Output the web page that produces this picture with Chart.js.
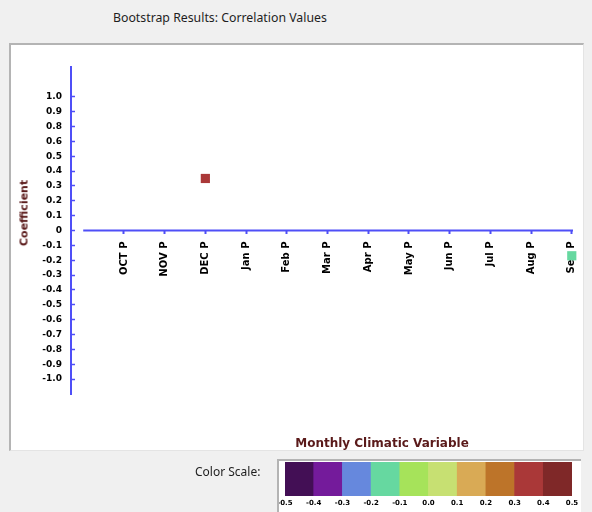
<!DOCTYPE html>
<html>
<head>
<meta charset="utf-8">
<script src="https://cdn.jsdelivr.net/npm/chart.js@4/dist/chart.umd.min.js"></script>
<style>
body { margin: 0; width: 592px; height: 512px; overflow: hidden; position: relative; background: #f0f0f0; font-family: "Noto Sans", sans-serif; }
#title { position: absolute; left: 113px; top: 9px; font-size: 12.3px; color: #1e1e1e; white-space: nowrap; }
#panel { position: absolute; left: 9px; top: 43px; width: 572px; height: 405px; background: #fff; border-top: 2px solid #b4b4b4; border-left: 2px solid #b4b4b4; border-right: 1px solid #e4e4e4; border-bottom: 1px solid #e4e4e4; }
#mainWrap { position: absolute; left: 11px; top: 45px; width: 571px; height: 405px; }
#ytitle { position: absolute; left: 24px; top: 213px; transform: translate(-50%, -50%) rotate(-90deg); font: bold 11px "DejaVu Sans"; color: #5a1a1a; white-space: nowrap; }
#xtitle { position: absolute; left: 382px; top: 443px; transform: translate(-50%, -50%); font: bold 12px "DejaVu Sans"; color: #5a1a1a; white-space: nowrap; }
#scaleLabel { position: absolute; left: 195px; top: 463px; font-size: 12px; color: #1e1e1e; }
#scaleBox { position: absolute; left: 277px; top: 459px; width: 302px; height: 53px; background: #fff; border-top: 2px solid #b4b4b4; border-left: 2px solid #b4b4b4; }
#scaleWrap { position: absolute; left: 279px; top: 461px; width: 300px; height: 51px; }
</style>
</head>
<body>
<div id="title">Bootstrap Results: Correlation Values</div>
<div id="panel"></div>
<div id="mainWrap"><canvas id="main"></canvas></div>
<div id="ytitle">Coefficient</div>
<div id="xtitle">Monthly Climatic Variable</div>
<div id="scaleLabel">Color Scale:</div>
<div id="scaleBox"></div>
<div id="scaleWrap"><canvas id="scale"></canvas></div>
<script>
// months on the x axis and the correlation read for each (null = no mark)
let months = ['OCT P', 'NOV P', 'DEC P', 'Jan P', 'Feb P', 'Mar P', 'Apr P', 'May P', 'Jun P', 'Jul P', 'Aug P', 'Sep P'];
let coefficients = [null, null, 0.35, null, null, null, null, null, null, null, null, -0.17];

// y ticks: where they sit and what they say (the original skips 0.7)
let yTickValues = [0.9, 0.8, 0.7, 0.6, 0.5, 0.4, 0.3, 0.2, 0.1, 0, -0.1, -0.2, -0.3, -0.4, -0.5, -0.6, -0.7, -0.8, -0.9, -1.0];
let yTickLabels = ['1.0', '0.9', '0.8', '0.6', '0.5', '0.4', '0.3', '0.2', '0.1', '0', '-0.1', '-0.2', '-0.3', '-0.4', '-0.5', '-0.6', '-0.7', '-0.8', '-0.9', '-1.0'];

// colour scale bins
let scaleEdges = [-0.5, -0.4, -0.3, -0.2, -0.1, 0.0, 0.1, 0.2, 0.3, 0.4, 0.5];
let scaleColors = ['#430f55', '#741b9b', '#6688dd', '#66d8a0', '#a6e35a', '#c7e072', '#d9aa55', '#bd7429', '#aa3838', '#7f2828'];

let axisBlue = '#4f4ff7';

function colorFor(v) {
    for (let i = 0; i < scaleColors.length; i++) {
        if (v >= scaleEdges[i] && v < scaleEdges[i + 1]) {
            return scaleColors[i];
        }
    }
    return v < scaleEdges[0] ? scaleColors[0] : scaleColors[scaleColors.length - 1];
}

let points = [];
for (let i = 0; i < months.length; i++) {
    if (coefficients[i] !== null) {
        points.push({ x: i + 1, y: coefficients[i] });
    }
}

// x axis line starts at the first slot, not at the y axis
let zeroLine = {
    id: 'zeroLine',
    beforeDatasetsDraw: function (chart) {
        let ctx = chart.ctx;
        let xs = chart.scales.x;
        let ys = chart.scales.y;
        let y0 = ys.getPixelForValue(0);
        ctx.save();
        ctx.strokeStyle = axisBlue;
        ctx.lineWidth = 2;
        ctx.beginPath();
        ctx.moveTo(xs.getPixelForValue(0), y0);
        ctx.lineTo(chart.chartArea.right, y0);
        ctx.stroke();
        ctx.restore();
    }
};

new Chart(document.getElementById('main'), {
    type: 'scatter',
    data: {
        datasets: [{
            data: points,
            pointStyle: 'rect',
            pointRadius: 6.5,
            pointHoverRadius: 6.5,
            borderWidth: 0,
            clip: false,
            backgroundColor: points.map(p => colorFor(p.y))
        }]
    },
    options: {
        responsive: true,
        maintainAspectRatio: false,
        animation: false,
        layout: { padding: { left: 0, right: 9, top: 22, bottom: 56 } },
        plugins: { legend: { display: false }, tooltip: { enabled: false } },
        scales: {
            x: {
                type: 'linear',
                min: -0.3,
                max: 12.03,
                position: { y: 0 },
                afterBuildTicks: function (scale) {
                    scale.ticks = months.map((m, i) => ({ value: i + 1 }));
                },
                afterFit: function (scale) {
                    scale.paddingLeft = 0;
                    scale.paddingRight = 0;
                },
                border: { display: false },
                grid: { drawOnChartArea: false, drawTicks: true, tickLength: 3, tickWidth: 2, tickColor: axisBlue },
                ticks: {
                    minRotation: 90,
                    maxRotation: 90,
                    autoSkip: false,
                    padding: 8,
                    color: '#000',
                    font: { family: 'DejaVu Sans', size: 10, weight: 'bold' },
                    callback: function (value, index) {
                        return months[index];
                    }
                }
            },
            y: {
                type: 'linear',
                min: -1.1,
                max: 1.1,
                position: 'left',
                afterBuildTicks: function (scale) {
                    scale.ticks = yTickValues.map(v => ({ value: v }));
                },
                afterFit: function (scale) {
                    scale.width = 60;
                    scale.paddingTop = 0;
                    scale.paddingBottom = 0;
                },
                border: { display: true, color: axisBlue, width: 2 },
                grid: { drawOnChartArea: false, drawTicks: true, tickLength: -4, tickWidth: 1.5, tickColor: axisBlue },
                ticks: {
                    autoSkip: false,
                    padding: 13,
                    color: '#000',
                    font: { family: 'DejaVu Sans', size: 9, weight: 'bold' },
                    callback: function (value, index) {
                        return yTickLabels[index];
                    }
                }
            }
        }
    },
    plugins: [zeroLine]
});

let bins = [];
for (let i = 0; i < scaleColors.length; i++) {
    bins.push({ x: [scaleEdges[i], scaleEdges[i + 1]], y: 'scale' });
}

new Chart(document.getElementById('scale'), {
    type: 'bar',
    data: {
        labels: ['scale'],
        datasets: [{
            data: bins,
            backgroundColor: scaleColors,
            borderWidth: 0,
            barPercentage: 1,
            categoryPercentage: 1
        }]
    },
    options: {
        indexAxis: 'y',
        responsive: true,
        maintainAspectRatio: false,
        animation: false,
        layout: { padding: { left: 6, right: 7, top: 1, bottom: 0 } },
        plugins: { legend: { display: false }, tooltip: { enabled: false } },
        scales: {
            x: {
                type: 'linear',
                min: scaleEdges[0],
                max: scaleEdges[scaleEdges.length - 1],
                afterBuildTicks: function (scale) {
                    scale.ticks = scaleEdges.map(v => ({ value: v }));
                },
                afterFit: function (scale) {
                    scale.height = 16;
                    scale.paddingLeft = 0;
                    scale.paddingRight = 0;
                },
                border: { display: false },
                grid: { display: false },
                ticks: {
                    maxRotation: 0,
                    autoSkip: false,
                    padding: -5,
                    color: '#000',
                    font: { family: 'DejaVu Sans', size: 7, weight: 'bold' },
                    callback: function (value) {
                        return value.toFixed(1);
                    }
                }
            },
            y: { display: false }
        }
    }
});
</script>
</body>
</html>
